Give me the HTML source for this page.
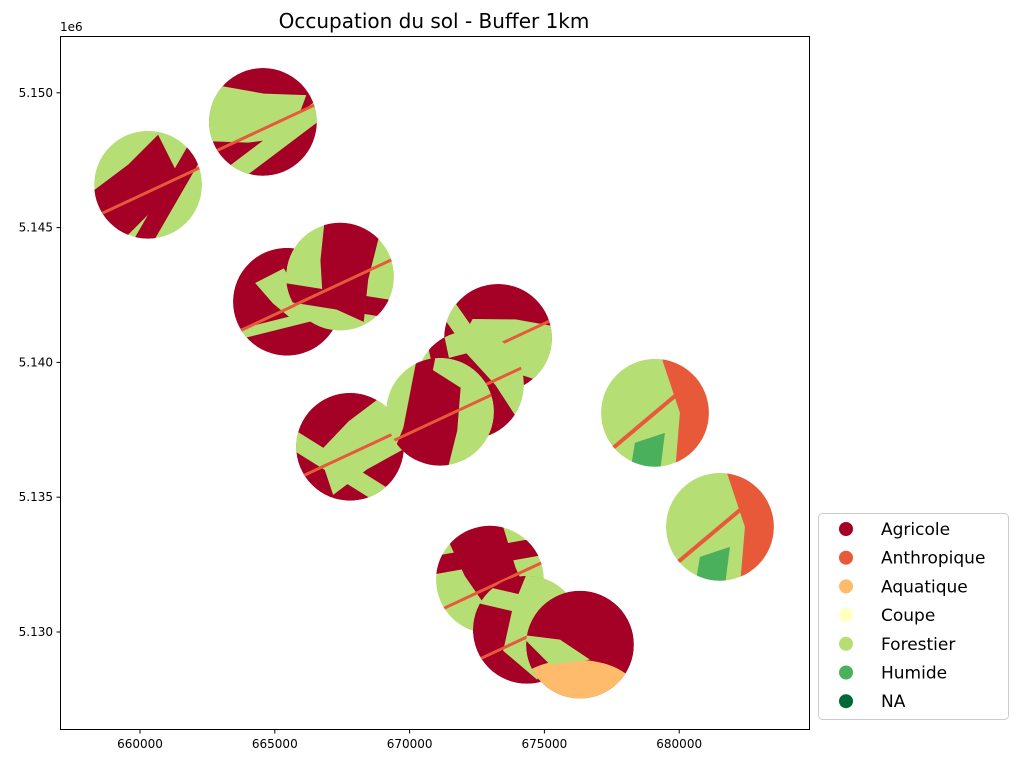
<!DOCTYPE html>
<html><head><meta charset="utf-8"><style>
body{margin:0;background:#fff;font-family:"Liberation Sans","DejaVu Sans",sans-serif}
text{font-family:"DejaVu Sans","Liberation Sans",sans-serif}
</style></head><body>
<svg id="chart" width="1018" height="763">
<text x="434" y="28" font-size="20" text-anchor="middle">Occupation du sol - Buffer 1km</text>
<g id="plot"></g>
<rect x="60.5" y="36.5" width="749" height="693" fill="none" stroke="#000" stroke-width="1"/>
<g id="axes"></g>
<g id="legend"></g>
</svg>
<script>
const NS="http://www.w3.org/2000/svg";
const xTicks=[660000,665000,670000,675000,680000];
const yTicks=[5130000,5135000,5140000,5145000,5150000];
const yTickLabels=["5.130","5.135","5.140","5.145","5.150"];
const bufferX=[660300,664560,665450,667420,667790,673280,672240,671130,679100,681510,672980,674350,676320];
const bufferY=[5146590,5148920,5142250,5143180,5136870,5140910,5139170,5138170,5138130,5133900,5131940,5130080,5129530];
const bufferRadius=2000;
const dominantClass=[4,0,0,4,0,0,4,4,4,4,4,0,0];
const secondaryClass=[0,4,4,0,4,4,0,0,1,1,0,4,2];
const categories=["Agricole","Anthropique","Aquatique","Coupe","Forestier","Humide","NA"];
const colors=["#a50026","#e8593a","#fdbb6b","#ffffbf","#b5df74","#4bb05c","#006837"];
const X=v=>140+(v-660000)/5000*134.8;
const Y=v=>632-(v-5130000)/5000*134.8;
const R=bufferRadius/5000*134.8;
const plot=document.getElementById('plot');
function mk(t,a,p){const e=document.createElementNS(NS,t);for(const k in a)e.setAttribute(k,a[k]);(p||plot).appendChild(e);return e;}
const defs=mk('defs',{});
bufferX.forEach((bx,i)=>{
  const cx=X(bx),cy=Y(bufferY[i]);
  const cp=mk('clipPath',{id:'c'+i},defs);
  mk('circle',{cx,cy,r:R},cp);
  const g=mk('g',{'clip-path':'url(#c'+i+')'});
  
  
  mk('circle',{cx,cy,r:R,fill:colors[dominantClass[i]]},g);
  const s=colors[secondaryClass[i]];
  if(secondaryClass[i]===2){
    mk('ellipse',{cx:cx-5,cy:cy+45,rx:60,ry:30,fill:s},g);
    mk('polygon',{points:`${cx-60},${cy-10} ${cx-20},${cy-5} ${cx+10},${cy+15} ${cx-30},${cy+20}`,fill:colors[4]},g);
  }else if(secondaryClass[i]===1){
    mk('polygon',{points:`${cx+5},${cy-60} ${cx+60},${cy-60} ${cx+60},${cy+60} ${cx+20},${cy+60} ${cx+25},${cy}`,fill:s},g);
    mk('rect',{x:cx-80,y:cy-2,width:160,height:4,fill:s,transform:`rotate(-40 ${cx} ${cy})`},g);
    mk('polygon',{points:`${cx-20},${cy+30} ${cx+10},${cy+20} ${cx+5},${cy+60} ${cx-25},${cy+60}`,fill:colors[5]},g);
  }else{
    const sc=(i===2)?0.55:1;
    mk('polygon',{points:`${cx-60*sc},${cy+10*sc} ${cx-20*sc},${cy-20*sc} ${cx+10*sc},${cy-50*sc} ${cx+30*sc},${cy-10*sc} ${cx+5*sc},${cy+25*sc} ${cx-30*sc},${cy+60*sc}`,fill:s,transform:`rotate(${i*47} ${cx} ${cy})`},g);
    mk('rect',{x:cx+15,y:cy-60,width:18*sc,height:120,fill:s,transform:`rotate(${30+i*23} ${cx} ${cy})`},g);
    mk('rect',{x:cx-80,y:cy+5,width:160,height:3,fill:colors[1],transform:`rotate(-25 ${cx} ${cy})`},g);
  }
});
const axes=document.getElementById('axes');
xTicks.forEach(v=>{const x=X(v);
  const l=mk('line',{x1:x,x2:x,y1:729.5,y2:733.5,stroke:'#000'},axes);
  const t=mk('text',{x,y:748,'font-size':12,'text-anchor':'middle'},axes);t.textContent=v;});
yTicks.forEach((v,i)=>{const y=Y(v);
  const l=mk('line',{x1:56.5,x2:60.5,y1:y,y2:y,stroke:'#000'},axes);
  const t=mk('text',{x:53,y:y+4,'font-size':12,'text-anchor':'end'},axes);t.textContent=yTickLabels[i];});
const off=mk('text',{x:60,y:31,'font-size':12},axes);off.textContent='1e6';
const lg=document.getElementById('legend');
const box=mk('rect',{x:818.5,y:513.5,width:190,height:206,rx:4,fill:'#fff',stroke:'#ccc'},lg);

categories.forEach((c,i)=>{const y=529+i*28.7;
  const g=mk('g',{},lg);
  mk('circle',{cx:846,cy:y,r:7,fill:colors[i]},g);
  const t=mk('text',{x:881,y:y+6,'font-size':17},g);t.textContent=c;});
</script>
</body></html>
